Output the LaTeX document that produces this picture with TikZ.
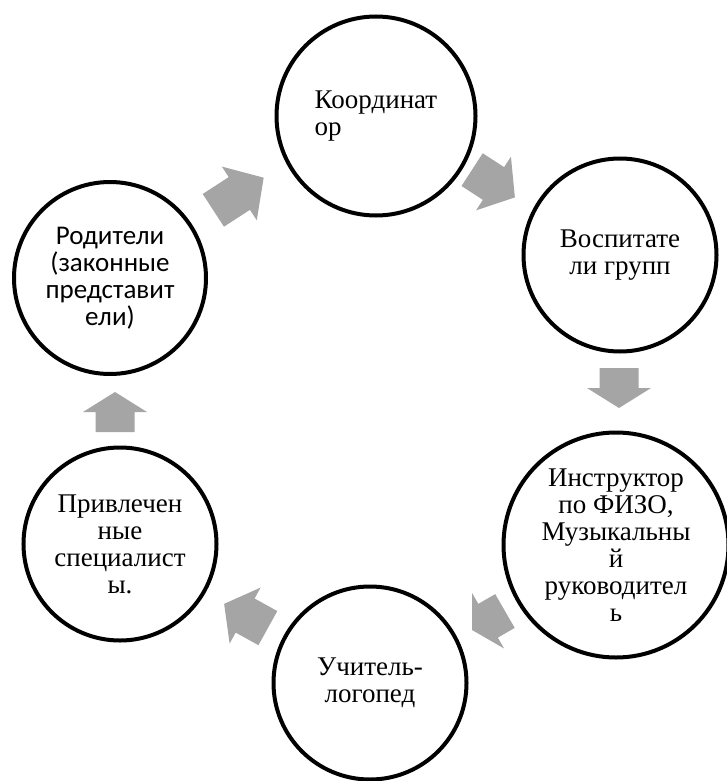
\documentclass[tikz,border=0pt]{standalone}
\usepackage{fontspec}
\setmainfont{Liberation Serif}
\newfontfamily\calibri{Carlito}
\definecolor{arrowgray}{HTML}{A5A5A5}
% block arrow: centre, angle, length, head length
\newcommand{\blockarrow}[4]{%
  \fill[arrowgray,shift={#1},rotate=#2]
    (-#3/2,-19.5) -- (#3/2-#4,-19.5) -- (#3/2-#4,-32) -- (#3/2,0)
    -- (#3/2-#4,32) -- (#3/2-#4,19.5) -- (-#3/2,19.5) -- cycle;}

\begin{document}
\begin{tikzpicture}[x=1pt,y=-1pt,
  member/.style={circle,draw,line width=4pt,inner sep=0pt,align=center,
    font=\fontsize{27}{27}\selectfont}]
\useasboundingbox (0,0) rectangle (726,781);
% circles of the cycle
\node[member,align=left,minimum size=199pt] (coord) at (376,116) {Координат\\ор};
\node[member,minimum size=193pt] (educ) at (620,255) {Воспитате\\ли групп};
\node[member,minimum size=225pt] (instr) at (616,545) {Инструктор\\по ФИЗО,\\Музыкальны\\й\\руководител\\ь};
\node[member,minimum size=193pt] (logo) at (370,683) {Учитель-\\логопед};
\node[member,minimum size=193pt] (spec) at (120,544) {Привлечен\\ные\\специалист\\ы.};
\node[member,minimum size=192pt,font=\calibri\fontsize{27}{27}\selectfont] (par) at (110,278) {Родители\\(законные\\представит\\ели)};
% block arrows between the circles
\blockarrow{(238.5,194)}{33}{60}{29}
\blockarrow{(493.5,183.5)}{-33}{51}{25.5}
\blockarrow{(619,388)}{-90}{40}{20}
\blockarrow{(488.5,620.5)}{210}{38}{18.5}
\blockarrow{(246,616)}{151}{50}{24}
\blockarrow{(115,412)}{90}{40}{20}
\end{tikzpicture}
\end{document}
